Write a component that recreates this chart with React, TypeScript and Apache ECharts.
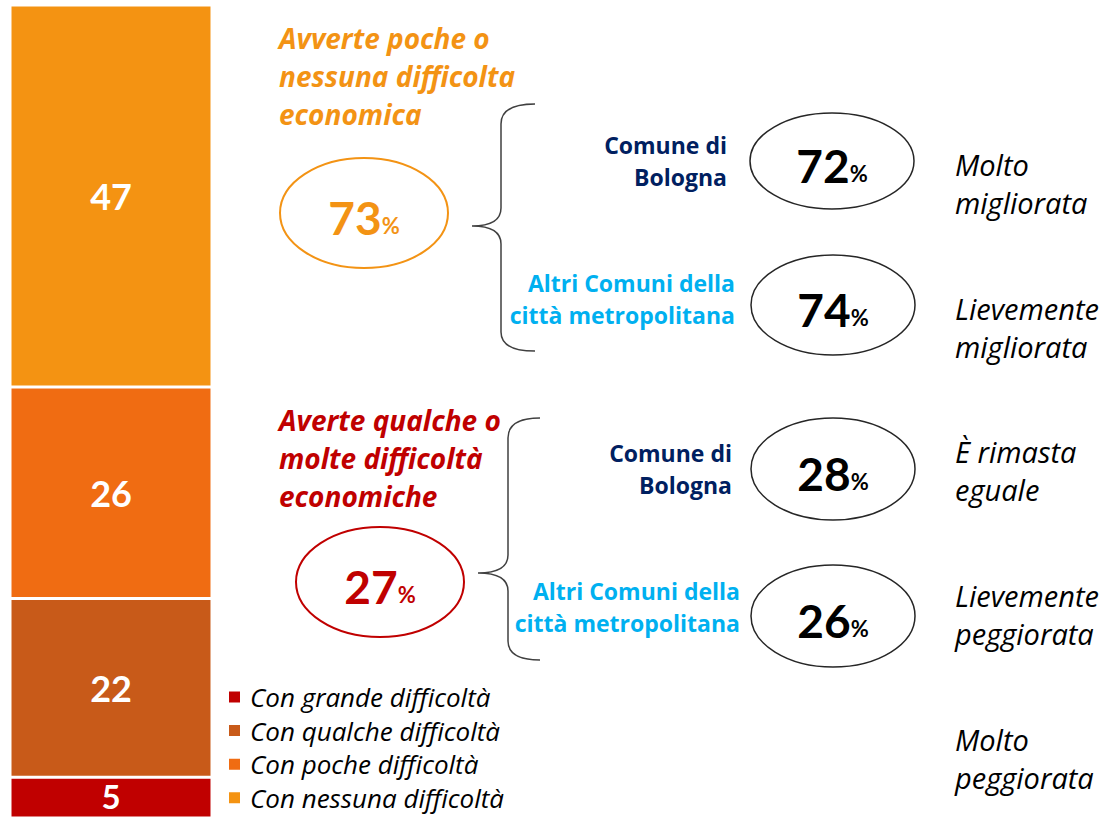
import React, { useEffect, useRef } from "react";
import * as echarts from "echarts";

const categories = [
  "Con grande difficoltà",
  "Con qualche difficoltà",
  "Con poche difficoltà",
  "Con nessuna difficoltà",
];
const values = [5, 22, 26, 47];
const barColors = ["#C00000", "#C85A19", "#F06C12", "#F49312"];

const groupTitles = [
  "Avverte poche o\nnessuna difficolta\neconomica",
  "Averte qualche o\nmolte difficoltà\neconomiche",
];
const groupTotals = [73, 27];
const groupColors = ["#F39314", "#C00000"];
const subLabels = ["Comune di\nBologna", "Altri Comuni della\ncittà metropolitana"];
const subColors = ["#002060", "#00B0F0"];
const subValues = [72, 74, 28, 26];
const changeLabels = [
  "Molto\nmigliorata",
  "Lievemente\nmigliorata",
  "È rimasta\neguale",
  "Lievemente\npeggiorata",
  "Molto\npeggiorata",
];

const NUMFONT = "Lato, Calibri, 'Noto Sans', sans-serif";
const FONT = "'Open Sans', Calibri, 'Noto Sans', sans-serif";

echarts.graphic.registerShape(
  "brace1",
  echarts.graphic.extendPath(
    "M535,104 Q501,104 501,124 L501,208 Q501,226 472,226 Q501,226 501,244 L501,332 Q501,351 535,351",
    {}
  )
);
echarts.graphic.registerShape(
  "brace2",
  echarts.graphic.extendPath(
    "M540,418 Q508,418 508,438 L508,555 Q508,573 478,573 Q508,573 508,591 L508,641 Q508,660 540,660",
    {}
  )
);

function pctText(x: number, y: number, v: number, color: string, big: number) {
  return {
    type: "text",
    x,
    y,
    style: {
      text: `{a|${v}}{b|%}`,
      align: "center",
      verticalAlign: "middle",
      rich: {
        a: { fontSize: big, fontWeight: "bold", fontFamily: NUMFONT, fill: color, verticalAlign: "bottom", lineHeight: 50 },
        b: { fontSize: 22, fontWeight: "bold", fontFamily: NUMFONT, fill: color, verticalAlign: "bottom", lineHeight: 50, padding: [0, 0, 4, 0] },
      },
    },
  };
}

export default function App() {
  const ref = useRef<HTMLDivElement>(null);
  useEffect(() => {
    document.body.style.margin = "0";
    document.body.style.overflow = "hidden";
    if (!ref.current) return;
    const chart = echarts.init(ref.current, null, { renderer: "svg" });

    const series = categories.map((name, i) => ({
      name,
      type: "bar",
      stack: "total",
      barWidth: "100%",
      data: [
        i === 0
          ? { value: values[i], label: { fontSize: 33, lineHeight: 26, offset: [0, -2] } }
          : values[i],
      ],
      itemStyle: { color: barColors[i], borderColor: "#ffffff", borderWidth: 1.5 },
      label: {
        show: true,
        position: "inside",
        color: "#ffffff",
        fontSize: 36,
        lineHeight: 28,
        fontWeight: "bold",
        fontFamily: NUMFONT,
        formatter: "{c}",
      },
    }));

    const graphics: any[] = [];
    // group titles
    const titleY = [76, 458];
    groupTitles.forEach((t, i) => {
      graphics.push({
        type: "text",
        x: 279,
        y: titleY[i],
        style: {
          text: t,
          fill: groupColors[i],
          fontSize: 28,
          fontWeight: "bold",
          fontStyle: "italic",
          fontFamily: FONT,
          lineHeight: 38,
          align: "left",
          verticalAlign: "middle",
        },
      });
    });
    // group ellipses
    const gEll = [
      [364, 213],
      [380, 582],
    ];
    gEll.forEach(([cx, cy], i) => {
      graphics.push({
        type: "ellipse",
        shape: { cx, cy, rx: 84, ry: 55 },
        style: { fill: "none", stroke: groupColors[i], lineWidth: 2 },
      });
      graphics.push(pctText(cx, cy + 2, groupTotals[i], groupColors[i], 46));
    });
    // braces
    graphics.push({ type: "brace1", x: 0, y: 0, style: { fill: "none", stroke: "#404040", lineWidth: 1.5 } });
    graphics.push({ type: "brace2", x: 0, y: 0, style: { fill: "none", stroke: "#404040", lineWidth: 1.5 } });
    // sub labels and ellipses
    const subLabelPos = [
      [727, 161],
      [735, 299],
      [732, 469],
      [740, 607],
    ];
    const subEll = [
      [832, 161, 48],
      [833, 305, 50],
      [833, 469, 51],
      [833, 616, 51],
    ];
    subValues.forEach((v, i) => {
      graphics.push({
        type: "text",
        x: subLabelPos[i][0],
        y: subLabelPos[i][1],
        style: {
          text: subLabels[i % 2],
          fill: subColors[i % 2],
          fontSize: 23,
          fontWeight: "bold",
          fontFamily: FONT,
          lineHeight: 32,
          align: "right",
          verticalAlign: "middle",
        },
      });
      const [cx, cy, ry] = subEll[i];
      graphics.push({
        type: "ellipse",
        shape: { cx, cy, rx: 82, ry },
        style: { fill: "none", stroke: "#262626", lineWidth: 1.5 },
      });
      graphics.push(pctText(cx, cy + 2, v, "#000000", 46));
    });
    // change labels
    const changeY = [183, 327, 470, 614, 758];
    changeLabels.forEach((t, i) => {
      graphics.push({
        type: "text",
        x: 955,
        y: changeY[i],
        style: {
          text: t,
          fill: "#000000",
          fontSize: 29,
          fontStyle: "italic",
          fontFamily: FONT,
          lineHeight: 38,
          align: "left",
          verticalAlign: "middle",
        },
      });
    });

    chart.setOption({
      animation: false,
      grid: { left: 10, top: 5, width: 202, height: 816, containLabel: false },
      xAxis: { type: "category", data: [""], show: false },
      yAxis: { type: "value", min: 0, max: 100, show: false },
      legend: {
        data: [...categories],
        orient: "vertical",
        left: 227,
        top: 684,
        padding: 0,
        itemWidth: 13,
        itemHeight: 13,
        itemGap: 7.6,
        icon: "rect",
        textStyle: { fontSize: 26, fontStyle: "italic", fontFamily: FONT, color: "#000", lineHeight: 26, padding: [0, 0, 0, 4] },
      },
      series,
      graphic: graphics,
    });
    return () => chart.dispose();
  }, []);
  return <div ref={ref} style={{ width: 1104, height: 818 }} />;
}
